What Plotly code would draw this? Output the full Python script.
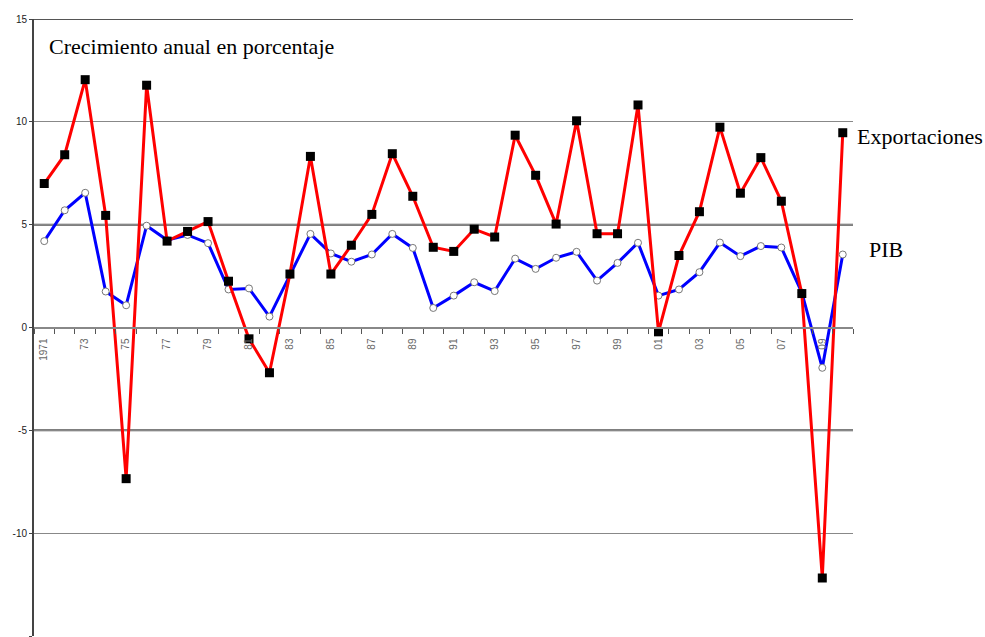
import plotly.graph_objects as go

years = list(range(1971, 2011))
exportaciones = [7.0, 8.4, 12.05, 5.45, -7.35, 11.78, 4.2, 4.67, 5.15, 2.25,
                 -0.55, -2.2, 2.6, 8.32, 2.6, 4.0, 5.5, 8.45, 6.38, 3.9,
                 3.7, 4.78, 4.4, 9.35, 7.4, 5.03, 10.05, 4.56, 4.56, 10.82,
                 -0.21, 3.5, 5.63, 9.74, 6.53, 8.26, 6.14, 1.65, -12.18, 9.47]
pib = [4.2, 5.7, 6.55, 1.75, 1.08, 4.95, 4.25, 4.5, 4.1, 1.85,
       1.9, 0.53, 2.55, 4.55, 3.6, 3.2, 3.55, 4.55, 3.87, 0.95,
       1.55, 2.2, 1.77, 3.35, 2.85, 3.39, 3.68, 2.28, 3.14, 4.12,
       1.55, 1.85, 2.69, 4.13, 3.47, 3.96, 3.89, 1.7, -1.96, 3.55]
tick_years = list(range(1971, 2011, 2))
tick_text = ["1971"] + [str(y)[2:] for y in tick_years[1:]]
y_ticks = [-15, -10, -5, 0, 5, 10, 15]
y_tick_text = [str(v) for v in y_ticks]
dark_grid = [15, 5, -5]

fig = go.Figure()
fig.add_trace(go.Scatter(
    x=years, y=pib, mode="lines+markers", name="PIB",
    line=dict(color="#0000ff", width=3),
    marker=dict(symbol="circle", size=7, color="white",
                line=dict(color="#777777", width=1)),
))
fig.add_trace(go.Scatter(
    x=years, y=exportaciones, mode="lines+markers", name="Exportaciones",
    line=dict(color="#ff0000", width=3),
    marker=dict(symbol="square", size=9, color="black",
                line=dict(color="black", width=0)),
))

for v in dark_grid:
    fig.add_shape(type="line", xref="paper", yref="y", x0=0, x1=1, y0=v, y1=v,
                  line=dict(color="#555555", width=2), layer="below")

fig.add_annotation(text="Crecimiento anual en porcentaje", xref="paper", yref="paper",
                   x=0.0159, y=0.955, xanchor="left", yanchor="middle", showarrow=False,
                   font=dict(family="Liberation Serif", size=22, color="black"))
fig.add_annotation(text="Exportaciones", xref="paper", yref="paper",
                   x=1.002, y=0.81, xanchor="left", yanchor="middle", showarrow=False,
                   font=dict(family="Liberation Serif", size=22, color="black"))
fig.add_annotation(text="PIB", xref="paper", yref="paper",
                   x=1.017, y=0.627, xanchor="left", yanchor="middle", showarrow=False,
                   font=dict(family="Liberation Serif", size=22, color="black"))

fig.update_layout(
    width=985, height=637,
    margin=dict(l=34, r=132, t=19, b=1, autoexpand=False),
    paper_bgcolor="white", plot_bgcolor="white",
    showlegend=False,
    xaxis=dict(
        range=[1970.5, 2010.5], anchor="free", position=0.5, automargin=False,
        tickmode="array", tickvals=tick_years, ticktext=tick_text,
        tickangle=-90, ticks="", ticklabelstandoff=6,
        tickfont=dict(family="Liberation Sans", size=10, color="#666666"),
        showline=True, linecolor="#888888", linewidth=2,
        showgrid=False, zeroline=False,
        minor=dict(tickmode="array", tickvals=[y + 0.5 for y in range(1970, 2011)],
                   ticks="outside", ticklen=5, tickwidth=1, tickcolor="#555555",
                   showgrid=False),
    ),
    yaxis=dict(
        range=[-15, 15], tickmode="array", tickvals=y_ticks, ticktext=y_tick_text,
        automargin=False,
        ticks="outside", ticklen=3, tickcolor="#444444",
        tickfont=dict(family="Liberation Sans", size=10, color="#222222"),
        showline=True, linecolor="#444444", linewidth=2,
        showgrid=True, gridcolor="#888888", gridwidth=1,
        zeroline=False,
    ),
)

fig.write_html("out.html", config={"displayModeBar": False},
               post_script="document.body.style.margin='0';document.body.style.overflow='hidden';")
